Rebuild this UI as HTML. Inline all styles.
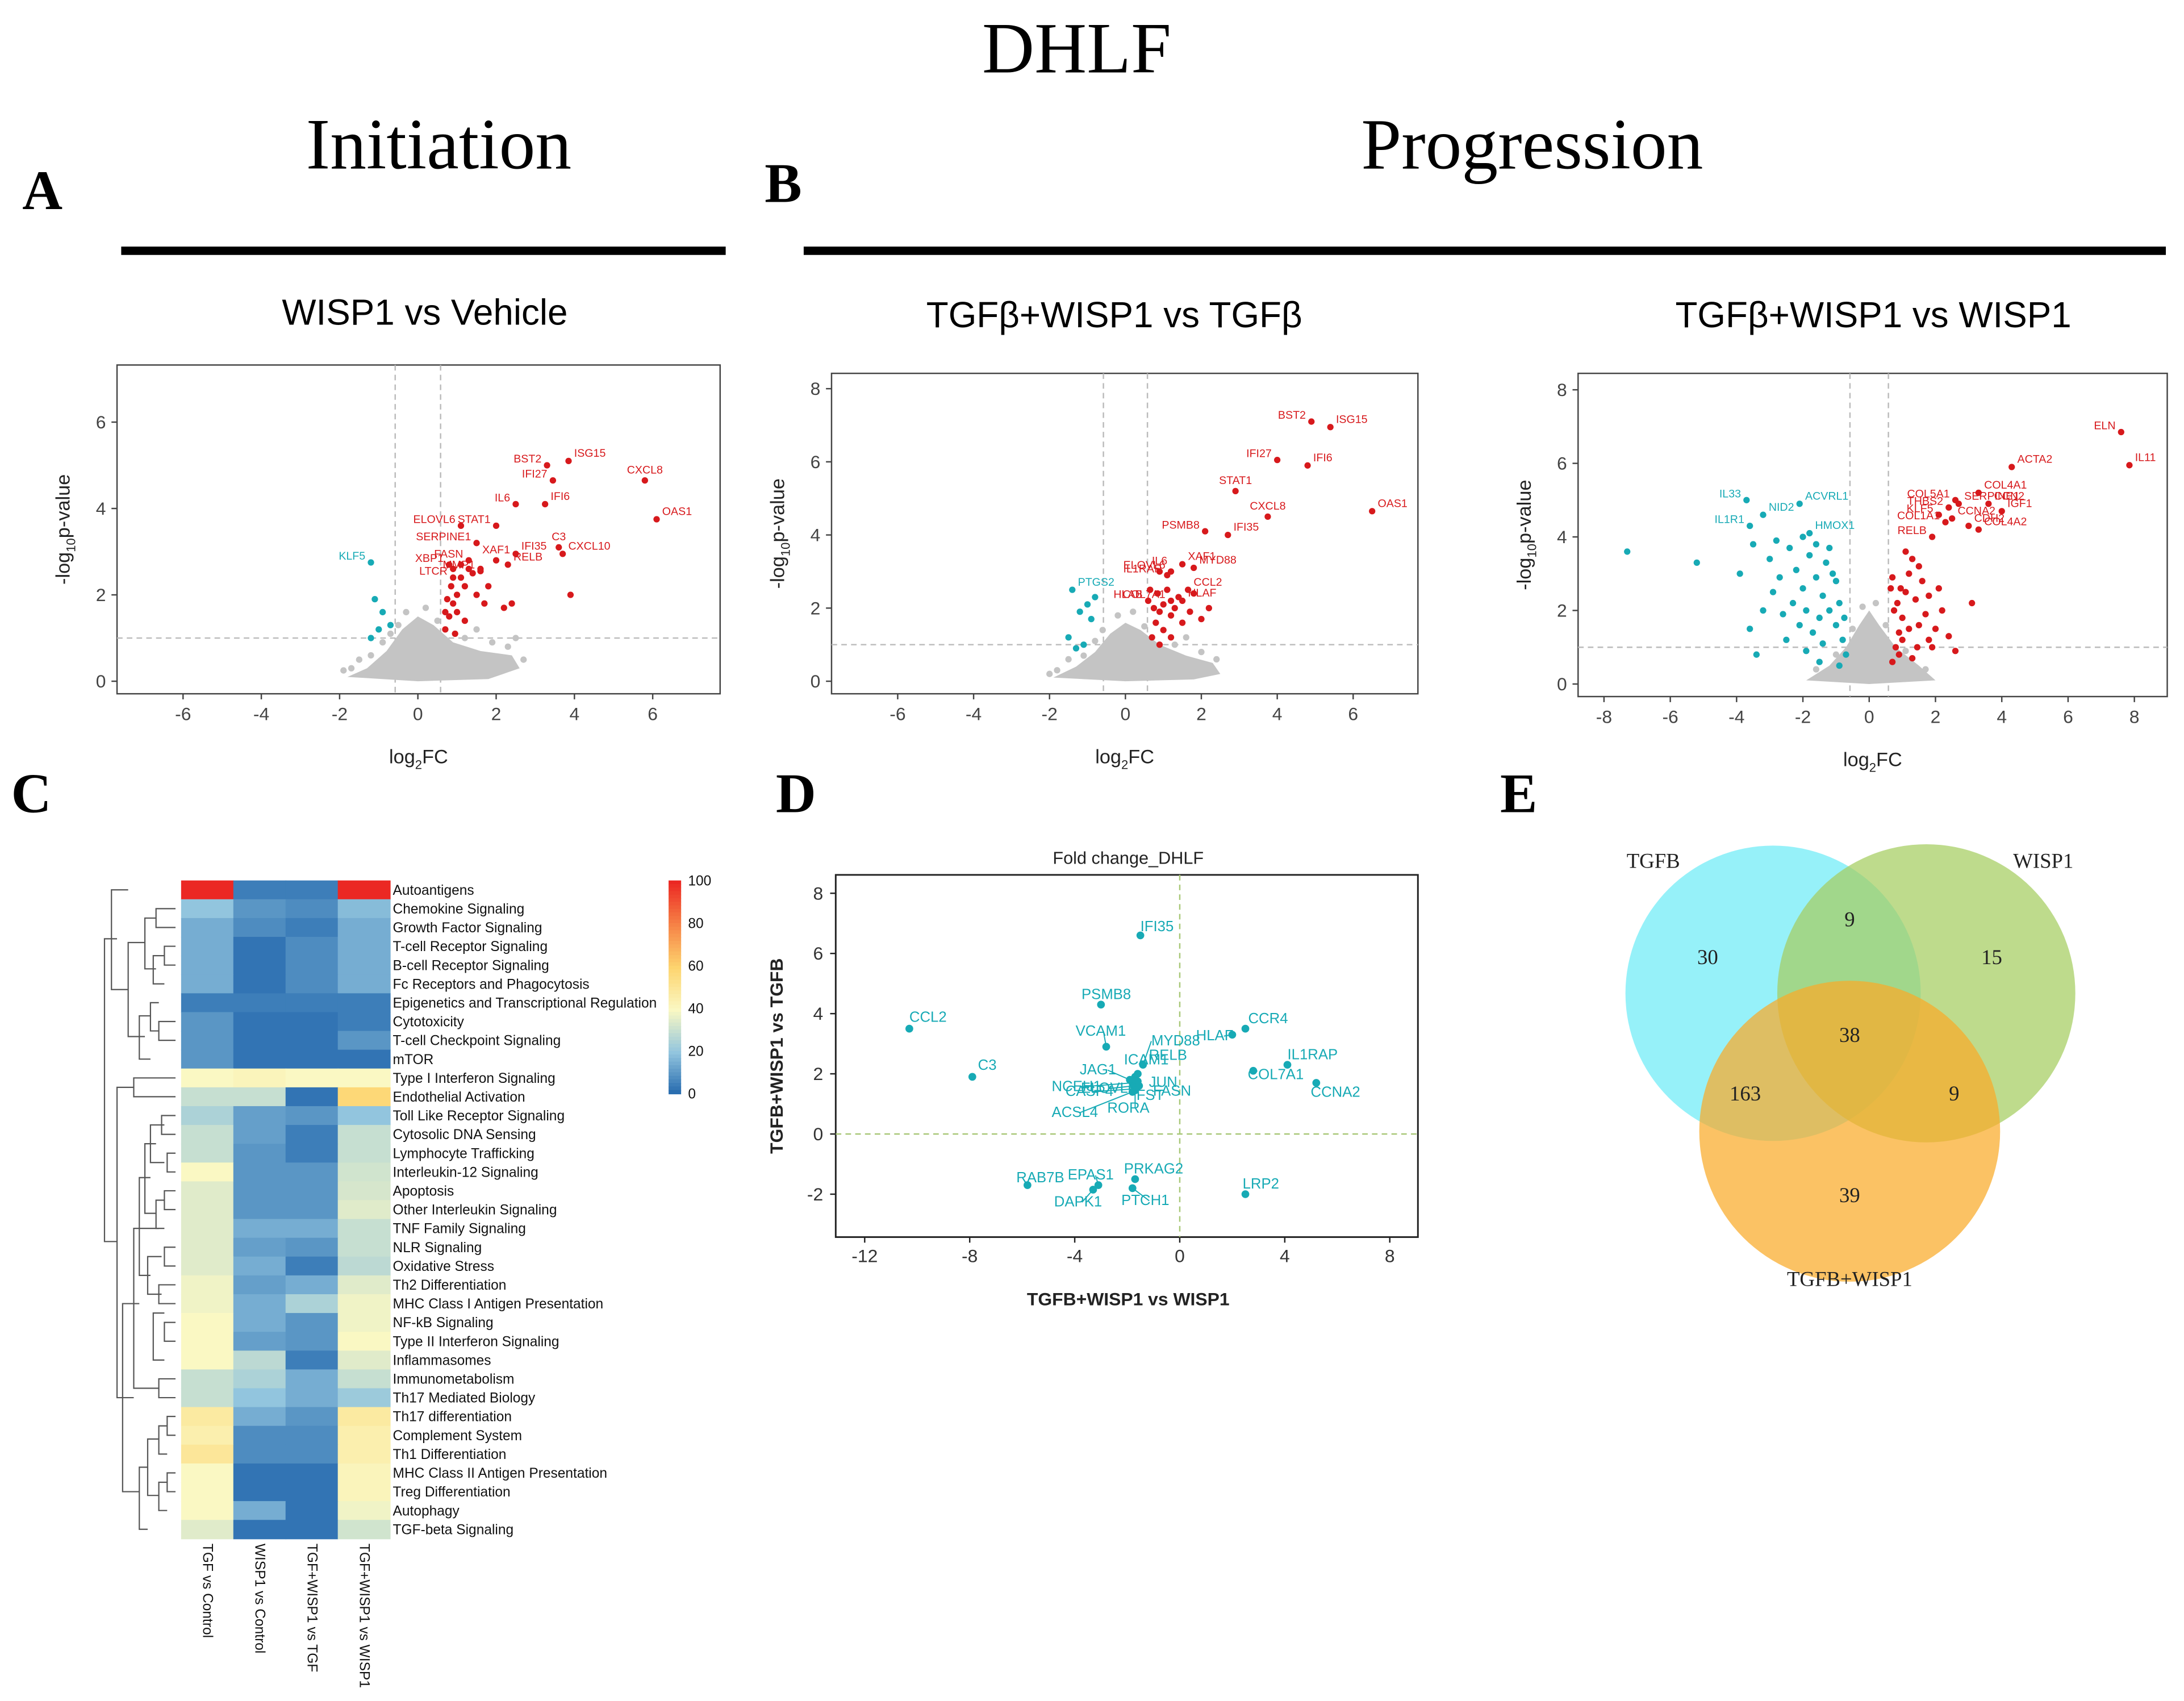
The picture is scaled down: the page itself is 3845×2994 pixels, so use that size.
<!DOCTYPE html>
<html><head><meta charset="utf-8"><title>DHLF figure</title>
<style>
html,body{margin:0;padding:0;background:#fff;}
svg{display:block;}
text{font-family:"Liberation Sans",sans-serif;}
.serif{font-family:"Liberation Serif",serif;}
</style></head>
<body>
<svg id="fig" xmlns="http://www.w3.org/2000/svg" width="3845" height="2994" viewBox="0 0 1568 1221">
<rect x="0" y="0" width="1568" height="1221" fill="#fff"/>
<text class="serif" x="773" y="52" font-size="52" text-anchor="middle">DHLF</text>
<text class="serif" x="315" y="121" font-size="52" text-anchor="middle">Initiation</text>
<text class="serif" x="1100" y="121" font-size="52" text-anchor="middle">Progression</text>
<text class="serif" x="16" y="150" font-size="40" font-weight="bold">A</text>
<text class="serif" x="549" y="145" font-size="40" font-weight="bold">B</text>
<text class="serif" x="8" y="583" font-size="40" font-weight="bold">C</text>
<text class="serif" x="557" y="583" font-size="40" font-weight="bold">D</text>
<text class="serif" x="1077" y="583" font-size="40" font-weight="bold">E</text>
<rect x="87" y="177" width="434" height="6" fill="#000"/>
<rect x="577" y="177" width="978" height="6" fill="#000"/>
<text x="305" y="233" font-size="26" text-anchor="middle">WISP1 vs Vehicle</text>
<text x="800" y="235" font-size="26" text-anchor="middle">TGFβ+WISP1 vs TGFβ</text>
<text x="1345" y="235" font-size="26" text-anchor="middle">TGFβ+WISP1 vs WISP1</text>
</svg>
<script>
// ---------- Volcano data ----------
const aCloud=[[-1.8,0.1],[-1.3,0.3],[-0.8,0.7],[-0.4,1.2],[0,1.5],[0.4,1.3],[0.9,0.9],[1.6,0.7],[2.4,0.6],[2.6,0.3],[1.8,0.05],[0,0]];
const aGray=[[-1.7,0.3],[-1.5,0.5],[-1.9,0.25],[-1.2,0.6],[-0.9,0.9],[-0.7,1.1],[-0.5,1.3],[0.5,1.4],[1.2,1.0],[1.9,0.9],[2.3,0.8],[2.7,0.5],[2.5,1.0],[1.5,1.2],[-0.3,1.6],[0.2,1.7]];
const aRed=[[0.7,1.2],[0.8,1.5],[0.9,1.8],[1.0,2.0],[0.85,2.2],[1.1,2.4],[1.2,2.2],[1.3,2.6],[1.0,1.6],[0.75,1.9],[1.5,2.0],[1.7,1.8],[2.2,1.7],[1.4,2.5],[1.6,2.6],[0.9,2.6],[1.2,1.4],[0.95,1.1],[2.4,1.8],[1.8,2.2],[3.9,2.0],[1.1,2.7],[0.7,1.6]];
const aBlue=[[-1.1,1.9],[-0.9,1.6],[-1.2,1.0],[-0.7,1.3],[-1.0,1.2]];
const aLabNames=["ISG15","BST2","IFI27","IFI6","IL6","STAT1","ELOVL6","SERPINE1","CXCL8","OAS1","C3","IFI35","CXCL10","XAF1","FASN","MMP1","RELB","XBP1","LTCR","KLF5"];
const aLabX=[3.85,3.3,3.45,3.25,2.5,2.0,1.1,1.5,5.8,6.1,3.6,2.5,3.7,2.0,1.3,1.6,2.3,0.8,0.9,-1.2];
const aLabY=[5.1,5.0,4.65,4.1,4.1,3.6,3.6,3.2,4.65,3.75,3.1,2.95,2.95,2.8,2.8,2.55,2.7,2.7,2.4,2.75];
const aLabSide=["r","l","l","r","l","l","l","l","u","r","u","r","r","u","l","l","r","l","l","l"];

const bCloud=[[-1.9,0.1],[-1.3,0.4],[-0.8,0.8],[-0.4,1.3],[0,1.6],[0.4,1.4],[0.9,1.0],[1.6,0.7],[2.3,0.5],[2.5,0.2],[1.8,0.05],[0,0]];
const bGray=[[-1.8,0.3],[-1.5,0.6],[-2.0,0.2],[-1.1,0.7],[-0.8,1.1],[-0.6,1.4],[0.5,1.5],[1.3,1.0],[2.0,0.8],[2.4,0.6],[1.6,1.2],[-0.2,1.8],[0.2,1.9]];
const bRed=[[0.7,1.2],[0.8,1.6],[0.9,1.9],[1.0,2.1],[0.85,2.4],[1.1,2.5],[1.2,1.8],[1.3,2.0],[1.0,1.4],[0.75,2.0],[1.5,1.6],[1.7,1.9],[2.0,1.7],[1.4,2.3],[0.65,2.5],[1.8,2.4],[2.2,2.0],[0.9,1.0],[1.2,1.2]];
const bBlue=[[-1.2,1.9],[-1.0,2.1],[-1.3,0.9],[-1.5,1.2],[-0.9,1.7],[-1.1,1.0],[-0.8,2.3]];
const bLabNames=["BST2","ISG15","IFI27","IFI6","STAT1","CXCL8","OAS1","PSMB8","IFI35","ELOVL6","IL1RAP","IL6","XAF1","MYD88","COL7A1","CCL2","HLAB","HLAF","PTGS2"];
const bLabX=[4.9,5.4,4.0,4.8,2.9,3.75,6.5,2.1,2.7,1.2,1.1,0.9,1.5,1.8,1.2,1.65,0.6,1.5,-1.4];
const bLabY=[7.1,6.95,6.05,5.9,5.2,4.5,4.65,4.1,4.0,3.0,2.9,3.0,3.2,3.1,2.2,2.5,2.2,2.2,2.5];
const bLabSide=["l","r","l","r","u","u","r","l","r","l","l","u","r","r","l","r","l","r","r"];

const cCloud=[[-1.9,0.1],[-1.2,0.5],[-0.7,1.0],[-0.3,1.6],[0,2.0],[0.3,1.6],[0.8,1.0],[1.5,0.5],[2.0,0.1],[0,0]];
const cGray=[[-1.6,0.4],[-1.0,0.8],[-0.5,1.5],[0.5,1.6],[1.1,0.9],[-0.2,2.1],[0.2,2.2],[1.7,0.4]];
const cRed=[[0.7,0.6],[0.8,1.0],[0.9,1.4],[1.0,1.8],[0.85,2.2],[1.1,2.5],[1.2,3.0],[1.3,3.4],[1.0,1.2],[0.75,2.0],[1.5,1.6],[1.7,1.9],[2.0,1.5],[1.4,2.3],[0.65,2.6],[1.8,2.4],[2.2,2.0],[0.9,0.8],[1.2,1.5],[1.6,2.8],[1.9,1.0],[2.4,1.3],[2.6,0.9],[3.1,2.2],[1.3,0.7],[1.5,3.2],[1.1,3.6],[0.7,2.9],[1.8,1.2],[2.1,2.6],[0.95,2.6],[1.45,1.0]];
const cBlue=[[-7.3,3.6],[-5.2,3.3],[-3.5,3.8],[-3.0,3.4],[-2.7,2.9],[-2.4,3.7],[-2.2,3.1],[-2.0,2.6],[-1.8,3.5],[-1.6,2.9],[-1.4,2.4],[-1.2,2.0],[-1.0,1.6],[-0.8,1.2],[-0.7,0.8],[-1.1,3.0],[-1.3,3.3],[-1.5,1.8],[-1.7,1.4],[-1.9,2.0],[-2.1,1.6],[-2.3,2.2],[-2.6,1.9],[-2.9,2.5],[-3.2,2.0],[-3.6,1.5],[-2.5,1.2],[-1.9,0.9],[-1.4,1.1],[-0.9,2.2],[-1.0,2.8],[-0.75,1.8],[-3.9,3.0],[-2.8,3.9],[-1.6,3.8],[-1.2,3.7],[-2.0,4.0],[-1.5,0.6],[-0.9,0.5],[-3.4,0.8]];
const cLabNames=["ELN","IL11","ACTA2","COL4A1","COL5A1","THBS2","SERPINE1","CCN2","KLF5","IGF1","COL1A1","CCNA2","CDH2","COL4A2","RELB","IL33","ACVRL1","NID2","IL1R1","HMOX1"];
const cLabX=[7.6,7.85,4.3,3.3,2.6,2.4,2.7,3.6,2.1,4.0,2.3,2.5,3.0,3.3,1.9,-3.7,-2.1,-3.2,-3.6,-1.8];
const cLabY=[6.85,5.95,5.9,5.2,5.0,4.8,4.9,4.9,4.6,4.7,4.4,4.5,4.3,4.2,4.0,5.0,4.9,4.6,4.3,4.1];
const cLabSide=["l","r","r","r","l","l","r","r","l","r","l","r","r","r","l","l","r","r","l","r"];

// ---------- Heatmap data ----------
const hmRows=["Autoantigens","Chemokine Signaling","Growth Factor Signaling","T-cell Receptor Signaling","B-cell Receptor Signaling","Fc Receptors and Phagocytosis","Epigenetics and Transcriptional Regulation","Cytotoxicity","T-cell Checkpoint Signaling","mTOR","Type I Interferon Signaling","Endothelial Activation","Toll Like Receptor Signaling","Cytosolic DNA Sensing","Lymphocyte Trafficking","Interleukin-12 Signaling","Apoptosis","Other Interleukin Signaling","TNF Family Signaling","NLR Signaling","Oxidative Stress","Th2 Differentiation","MHC Class I Antigen Presentation","NF-kB Signaling","Type II Interferon Signaling","Inflammasomes","Immunometabolism","Th17 Mediated Biology","Th17 differentiation","Complement System","Th1 Differentiation","MHC Class II Antigen Presentation","Treg Differentiation","Autophagy","TGF-beta Signaling"];
const hmCols=["TGF vs Control","WISP1 vs Control","TGF+WISP1 vs TGF","TGF+WISP1 vs WISP1"];
const hmVals=[[100,5,5,100],[20,10,8,18],[15,8,5,15],[15,3,8,15],[15,3,8,15],[15,3,8,15],[5,5,5,5],[10,3,3,5],[10,3,3,10],[10,3,3,3],[40,42,40,40],[30,30,3,58],[25,12,10,20],[30,12,5,30],[30,10,5,30],[40,10,10,32],[35,10,10,33],[35,10,10,35],[35,15,15,30],[35,12,10,30],[35,15,5,28],[38,12,15,35],[38,15,25,38],[40,15,10,38],[40,12,10,40],[40,28,5,35],[30,25,15,30],[30,20,15,22],[48,15,10,48],[45,8,8,45],[50,8,8,45],[40,3,3,42],[40,3,3,42],[40,15,3,38],[35,3,3,32]];
const cbTicks=[0,20,40,60,80,100];

// ---------- Scatter D data ----------
const dNames=["IFI35","CCL2","C3","PSMB8","VCAM1","JAG1","ICAM1","MYD88","RELB","NCEH1","ELOVL6","JUN","CASP4","FST","FASN","RORA","ACSL4","CCR4","HLAF","IL1RAP","COL7A1","CCNA2","RAB7B","EPAS1","DAPK1","PRKAG2","PTCH1","LRP2"];
const dX=[-1.5,-10.3,-7.9,-3.0,-2.8,-1.9,-1.7,-1.4,-1.6,-1.8,-1.75,-1.6,-1.7,-1.65,-1.55,-1.7,-1.8,2.5,2.0,4.1,2.8,5.2,-5.8,-3.1,-3.3,-1.7,-1.8,2.5];
const dY=[6.6,3.5,1.9,4.3,2.9,1.8,1.9,2.3,2.0,1.7,1.6,1.75,1.5,1.55,1.6,1.45,1.4,3.5,3.3,2.3,2.1,1.7,-1.7,-1.7,-1.85,-1.5,-1.8,-2.0];
const dLabDx=[0,0,4,-14,-22,-36,-8,6,8,-58,-38,8,-50,0,10,-20,-58,2,-26,0,-4,-4,-8,-22,-28,-8,-8,-2];
const dLabDy=[-3,-5,-5,-4,-8,-4,-9,-14,-10,6,5,4,5,9,7,16,18,-4,4,-4,6,10,-2,-4,12,-4,12,-4];
const dXTicks=[-12,-8,-4,0,4,8];
const dYTicks=[-2,0,2,4,6,8];

// ---------- Venn data ----------
const vennLabels=["TGFB","WISP1","TGFB+WISP1"];
const vennCounts=[30,9,15,38,163,9,39];

const NS='http://www.w3.org/2000/svg';
const svg=document.getElementById('fig');
function mk(tag,attrs,parent){const e=document.createElementNS(NS,tag);for(const k in attrs)e.setAttribute(k,attrs[k]);(parent||svg).appendChild(e);return e;}
function tx(x,y,s,size,attrs){const e=mk('text',Object.assign({x:x,y:y,'font-size':size},attrs||{}));e.textContent=s;return e;}

function volcano(id,box,x0,xk,y0,yk,xt,yt,cloud,gray,red,blue,ln,lx,ly,ls){
  const g=mk('g',{});
  
  
  const X=v=>x0+xk*v, Y=v=>y0-yk*v;
  const frame=mk('rect',{x:box[0],y:box[1],width:box[2]-box[0],height:box[3]-box[1],fill:'#fff',stroke:'#444','stroke-width':1},g);
  
  
  xt.forEach(t=>{const tk=mk('line',{x1:X(t),x2:X(t),y1:box[3],y2:box[3]+4,stroke:'#444'},g);
    
    
    const l=tx(X(t),box[3]+19,String(t).replace('-','-'),13,{'text-anchor':'middle',fill:'#444'});g.appendChild(l);
    
    });
  yt.forEach(t=>{const tk=mk('line',{x1:box[0]-4,x2:box[0],y1:Y(t),y2:Y(t),stroke:'#444'},g);
    
    
    const l=tx(box[0]-8,Y(t)+4.5,String(t),13,{'text-anchor':'end',fill:'#444'});g.appendChild(l);
    
    });
  [-0.58,0.58].forEach(v=>{const d=mk('line',{x1:X(v),x2:X(v),y1:box[1],y2:box[3],stroke:'#bbb','stroke-dasharray':'4,3'},g);
    
    });
  const hd=mk('line',{x1:box[0],x2:box[2],y1:Y(1),y2:Y(1),stroke:'#bbb','stroke-dasharray':'4,3'},g);
  
  
  const cl=mk('polygon',{points:cloud.map(p=>X(p[0])+','+Y(p[1])).join(' '),fill:'#c4c4c4'},g);
  
  
  const dot=(p,c,n)=>{const e=mk('circle',{cx:X(p[0]),cy:Y(p[1]),r:2.3,fill:c},g);
    
    };
  gray.forEach(p=>dot(p,'#c4c4c4',id+'-ns-point'));
  red.forEach(p=>dot(p,'#d7191c',id+'-up-point'));
  blue.forEach(p=>dot(p,'#17aab5',id+'-down-point'));
  ln.forEach((n,i)=>{const c=lx[i]<0?'#17aab5':'#d7191c';dot([lx[i],ly[i]],c,id+'-labeled-point');
    const px=X(lx[i]),py=Y(ly[i]);let ax,ay,an;
    if(ls[i]==='r'){ax=px+4;ay=py-3;an='start';}else if(ls[i]==='l'){ax=px-4;ay=py-2;an='end';}else{ax=px;ay=py-5;an='middle';}
    const l=tx(ax,ay,n,8,{'text-anchor':an,fill:c});g.appendChild(l);
    
    });
  const xl=tx((box[0]+box[2])/2,box[3]+50,'log',14,{'text-anchor':'middle',fill:'#222'});g.appendChild(xl);
  const s1=mk('tspan',{'font-size':9,dy:4},xl);s1.textContent='2';
  const s2=mk('tspan',{dy:-4},xl);s2.textContent='FC';
  
  
  const cy=(box[1]+box[3])/2, cx=box[0]-34;
  const yl=tx(cx,cy,'-log',14,{'text-anchor':'middle',fill:'#222',transform:'rotate(-90 '+cx+' '+cy+')'});g.appendChild(yl);
  const s3=mk('tspan',{'font-size':9,dy:4},yl);s3.textContent='10';
  const s4=mk('tspan',{dy:-4},yl);s4.textContent='p-value';
  
  
}
volcano('plot-a',[84,262,517,498],300,28.1,489,31,[-6,-4,-2,0,2,4,6],[0,2,4,6],aCloud,aGray,aRed,aBlue,aLabNames,aLabX,aLabY,aLabSide);
volcano('plot-b',[597,268,1018,498],808,27.25,489,26.25,[-6,-4,-2,0,2,4,6],[0,2,4,6,8],bCloud,bGray,bRed,bBlue,bLabNames,bLabX,bLabY,bLabSide);
volcano('plot-c',[1133,268,1556,500],1342,23.8,491,26.4,[-8,-6,-4,-2,0,2,4,6,8],[0,2,4,6,8],cCloud,cGray,cRed,cBlue,cLabNames,cLabX,cLabY,cLabSide);

// ---------- Heatmap ----------
function hmColor(v){const stops=[[0,[33,102,172]],[20,[146,197,222]],[40,[250,248,195]],[60,[253,212,110]],[80,[246,130,70]],[100,[235,40,35]]];
  for(let i=0;i<stops.length-1;i++){const a=stops[i],b=stops[i+1];if(v<=b[0]){const t=(v-a[0])/(b[0]-a[0]);return 'rgb('+a[1].map((c,j)=>Math.round(c+(b[1][j]-c)*t)).join(',')+')';}}return 'rgb(235,40,35)';}
const hx0=130,hcw=37.5,hy0=632,hrh=13.5;
const hg=mk('g',{});


hmVals.forEach((row,r)=>{row.forEach((v,c)=>{const cell=mk('rect',{x:hx0+c*hcw,y:hy0+r*hrh,width:hcw+0.4,height:hrh+0.4,fill:hmColor(v)},hg);
  
  });
  const l=tx(282,hy0+r*hrh+hrh/2+3.5,hmRows[r],10,{fill:'#111'});hg.appendChild(l);
  
  });
hmCols.forEach((n,c)=>{const x=hx0+c*hcw+hcw/2-3,y=1108;const l=tx(x,y,n,10,{fill:'#111',transform:'rotate(90 '+x+' '+y+')'});hg.appendChild(l);
  
  });
// colorbar
for(let i=0;i<60;i++){const v=100-i*100/60;const s=mk('rect',{x:480,y:632+i*153/60,width:9,height:153/60+0.5,fill:hmColor(v)},hg);
  
  }
cbTicks.forEach(t=>{const y=785-t*1.53;const l=tx(494,y+3.5,String(t),10,{fill:'#111'});hg.appendChild(l);
  
  });
// dendrogram
const RY=r=>hy0+r*hrh+hrh/2;
const dg=[[112,RY(1),RY(2),126],[118,RY(3),RY(4),126],[110,RY(3.5),RY(5),118],[104,RY(1.5),RY(4.2),112],[114,RY(7),RY(8),126],[108,RY(6),RY(7.5),114],[100,RY(9),RY(6.7),108],[92,RY(2.8),RY(7.8),104],[80,RY(0),RY(5.3),92],
 [116,RY(12),RY(13),126],[120,RY(14),RY(15),126],[108,RY(12.5),RY(14.5),118],[118,RY(16),RY(17),126],[112,RY(16.5),RY(18),118],[104,RY(13.5),RY(17.2),112],[118,RY(19),RY(20),126],[114,RY(21),RY(22),126],[106,RY(19.5),RY(21.5),116],[118,RY(23),RY(24),126],[110,RY(22.5),RY(25),118],[100,RY(15.3),RY(20.5),108],[114,RY(26),RY(27),126],[96,RY(18),RY(26.5),114],
 [120,RY(28),RY(29),126],[114,RY(28.5),RY(30),120],[120,RY(31),RY(32),126],[114,RY(31.5),RY(33),120],[106,RY(29.2),RY(32.2),114],[100,RY(30.7),RY(34),106],[88,RY(22),RY(32),100],[96,RY(10),RY(11),126],[84,RY(10.5),RY(27),96],[75,RY(2.6),RY(18.7),84]];
dg.forEach(b=>{const p=mk('path',{d:'M'+b[3]+' '+b[1]+'H'+b[0]+'V'+b[2]+'H'+b[3],fill:'none',stroke:'#555','stroke-width':0.9},hg);
  
  });

// ---------- Scatter D ----------
const dg2=mk('g',{});


const DX=v=>847+18.85*v, DY=v=>814-21.6*v;
const dfr=mk('rect',{x:600,y:628,width:418,height:260,fill:'#fff',stroke:'#222','stroke-width':1.2},dg2);


const dt=tx(810,620,'Fold change_DHLF',12.5,{'text-anchor':'middle',fill:'#222'});dg2.appendChild(dt);


const z1=mk('line',{x1:DX(0),x2:DX(0),y1:628,y2:888,stroke:'#a8c878','stroke-dasharray':'4,3'},dg2);


const z2=mk('line',{x1:600,x2:1018,y1:DY(0),y2:DY(0),stroke:'#a8c878','stroke-dasharray':'4,3'},dg2);


dXTicks.forEach(t=>{const k=mk('line',{x1:DX(t),x2:DX(t),y1:888,y2:892,stroke:'#222'},dg2);
  
  
  const l=tx(DX(t),906,String(t),13,{'text-anchor':'middle',fill:'#333'});dg2.appendChild(l);
  
  });
dYTicks.forEach(t=>{const k=mk('line',{x1:596,x2:600,y1:DY(t),y2:DY(t),stroke:'#222'},dg2);
  
  
  const l=tx(591,DY(t)+4.5,String(t),13,{'text-anchor':'end',fill:'#333'});dg2.appendChild(l);
  
  });
dNames.forEach((n,i)=>{const px=DX(dX[i]),py=DY(dY[i]);
  const lx=px+dLabDx[i],ly=py+dLabDy[i];
  if(Math.abs(dLabDx[i])>15||Math.abs(dLabDy[i])>11){const ll=mk('line',{x1:px,y1:py,x2:lx+(dLabDx[i]<0?20:0),y2:ly-3,stroke:'#17aab5','stroke-width':0.8},dg2);
    
    }
  const c=mk('circle',{cx:px,cy:py,r:2.8,fill:'#17aab5'},dg2);
  
  
  const l=tx(lx,ly,n,10.5,{fill:'#17aab5'});dg2.appendChild(l);
  
  });
const dxl=tx(810,937,'TGFB+WISP1 vs WISP1',13,{'text-anchor':'middle','font-weight':'bold',fill:'#222'});dg2.appendChild(dxl);


const dyl=tx(562,758,'TGFB+WISP1 vs TGFB',13,{'text-anchor':'middle','font-weight':'bold',fill:'#222',transform:'rotate(-90 562 758)'});dg2.appendChild(dyl);



// ---------- Venn ----------
const vg=mk('g',{});


const vc=[[1273,713,106,'rgba(110,236,246,0.72)'],[1383,713,107,'rgba(165,205,95,0.72)'],[1328,812,108,'rgba(250,170,40,0.72)']];
vc.forEach((c,i)=>{const e=mk('circle',{cx:c[0],cy:c[1],r:c[2],fill:c[3]},vg);
  
  });
const vpos=[[1226,692],[1328,665],[1430,692],[1328,748],[1253,790],[1403,790],[1328,863]];
vennCounts.forEach((n,i)=>{const l=tx(vpos[i][0],vpos[i][1],String(n),15,{'text-anchor':'middle',fill:'#222',class:'serif'});vg.appendChild(l);
  
  });
const vlp=[[1187,623],[1467,623],[1328,923]];
vennLabels.forEach((n,i)=>{const l=tx(vlp[i][0],vlp[i][1],n,15,{'text-anchor':'middle',fill:'#222',class:'serif'});vg.appendChild(l);
  
  });
</script>
</body></html>
